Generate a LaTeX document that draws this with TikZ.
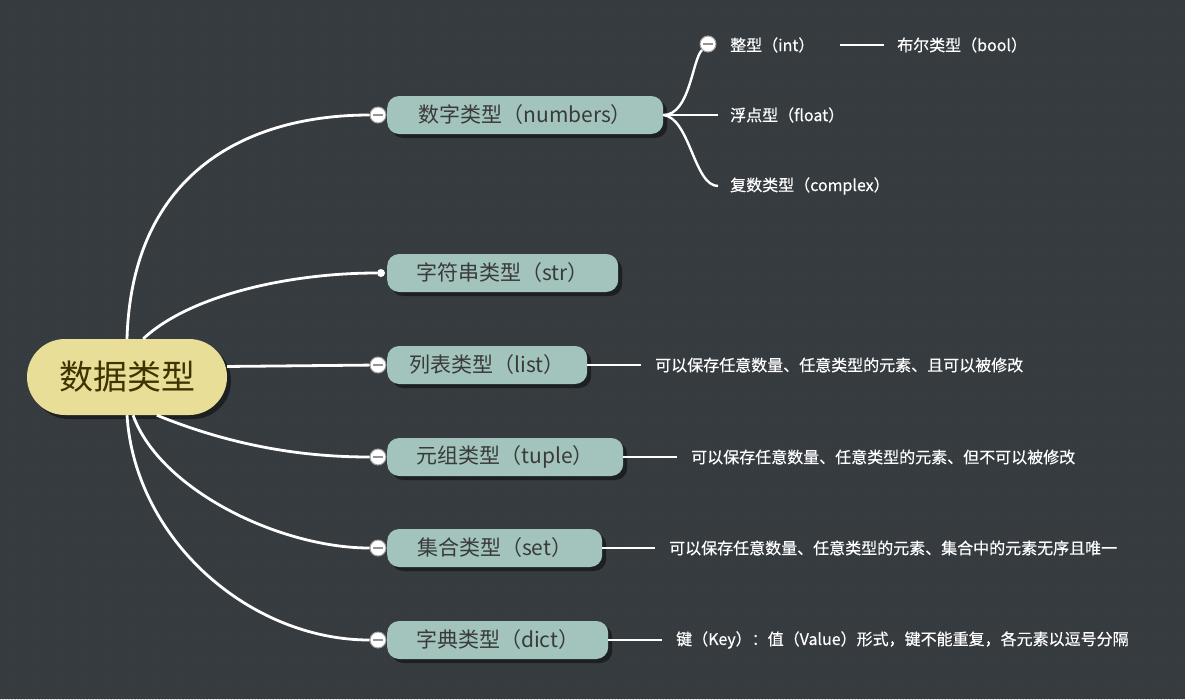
\documentclass[tikz,border=0pt]{standalone}
\usepackage{fontspec}
\setmainfont{Noto Sans CJK SC}
\newfontfamily\leaffont[FakeBold=0.4]{Noto Sans CJK SC}
\usepackage{xcolor}
\usepackage{tikz}
\usetikzlibrary{positioning}
\usetikzlibrary{shadows}
\usetikzlibrary{patterns}
\definecolor{board}{HTML}{363B3F}
\definecolor{boarddot}{HTML}{42474B}
\definecolor{sand}{HTML}{E8DE98}
\definecolor{sandink}{HTML}{3F3300}
\definecolor{sage}{HTML}{A2C4BD}
\definecolor{ink}{HTML}{3A3A3A}
\tikzset {
  x=1pt, y=-1pt,
  % central topic
  root/.style = {fill=sand, text=sandink, rounded corners=38pt,
    minimum width=200pt, minimum height=76pt, inner sep=0pt,
    font=\fontsize{34}{40}\selectfont,
    drop shadow={shadow xshift=4pt, shadow yshift=-4pt, opacity=0.45, fill=black}},
  % main topics
  topic/.style = {fill=sage, text=ink, rounded corners=12pt, anchor=west,
    minimum height=38pt, inner xsep=22pt, inner ysep=0pt,
    font=\fontsize{21}{25}\selectfont,
    drop shadow={shadow xshift=4pt, shadow yshift=-4pt, opacity=0.45, fill=black}},
  % collapse button with a minus
  fold/.style = {circle, draw=gray!75, fill=white, line width=1pt,
    minimum size=16pt, inner sep=0pt,
    path picture={\draw[gray!85, line width=1.3pt]
      ([xshift=-5pt]path picture bounding box.center) --
      ([xshift=5pt]path picture bounding box.center);}},
  % small end dot
  tip/.style = {circle, fill=white, minimum size=8pt, inner sep=0pt},
  % plain white labels
  leaf/.style = {text=white, anchor=west, inner xsep=12pt, inner ysep=2pt,
    font=\leaffont\fontsize{16}{19}\selectfont},
  % connectors
  branch/.style = {white, line width=2.8pt},
  twig/.style = {white, line width=2.4pt},
}
\begin{document}
\begin{tikzpicture}
  \useasboundingbox (0,0) rectangle (1185,699);
  \fill[board] (0,0) rectangle (1185,699);
  \fill[pattern=dots, pattern color=boarddot] (0,0) rectangle (1185,699);

  \node[root] (data) at (127,377) {数据类型};

  \node[topic, minimum width=276pt] (nnum) at (387,115) {数字类型（numbers）};
  \node[topic, minimum width=231pt] (nstr) at (387,273) {字符串类型（str）};
  \node[topic, minimum width=200pt] (nlist) at (387,365) {列表类型（list）};
  \node[topic, minimum width=236pt] (ntup) at (387,457) {元组类型（tuple）};
  \node[topic, minimum width=215pt] (nset) at (387,548) {集合类型（set）};
  \node[topic, minimum width=221pt] (ndict) at (387,640) {字典类型（dict）};

  \node[fold] (fnum) at (378,115) {};
  \node[tip] (dstr) at (381,273) {};
  \node[fold] (flist) at (378,365) {};
  \node[fold] (ftup) at (378,457) {};
  \node[fold] (fset) at (378,548) {};
  \node[fold] (fdict) at (378,640) {};

  \draw[branch] (data.north) .. controls (132,170) and (250,115) .. (fnum);
  \draw[branch] (data.67) .. controls (190,295) and (290,273) .. (dstr);
  \draw[branch] (data.6) -- (flist);
  \draw[branch] (data.-52) .. controls (230,445) and (300,457) .. (ftup);
  \draw[branch] (data.-81) .. controls (160,490) and (280,548) .. (fset);
  \draw[branch] (data.south) .. controls (135,540) and (250,640) .. (fdict);

  % numbers subtopics
  \node[leaf] (int) at (718,45) {整型（int）};
  \node[leaf] (bool) at (885,45) {布尔类型（bool）};
  \node[leaf] (float) at (718,115) {浮点型（float）};
  \node[leaf] (complex) at (718,186) {复数类型（complex）};
  \node[fold] (fint) at (708,44) {};

  \draw[twig] (nnum.east) .. controls (690,115) and (692,60) .. (fint);
  \draw[twig] (nnum.east) -- (float);
  \draw[twig] (nnum.east) .. controls (690,118) and (694,186) .. (complex);
  \draw[twig, shorten <=13pt, shorten >=1pt] (int) -- (bool);

  % descriptions
  \node[leaf, inner xsep=14pt] (dlist) at (641,365) {可以保存任意数量、任意类型的元素、且可以被修改};
  \node[leaf, inner xsep=14pt] (dtup) at (677,457) {可以保存任意数量、任意类型的元素、但不可以被修改};
  \node[leaf, inner xsep=14pt] (dset) at (655,548) {可以保存任意数量、任意类型的元素、集合中的元素无序且唯一};
  \node[leaf, inner xsep=14pt] (ddict) at (662,640) {键（Key）：值（Value）形式，键不能重复，各元素以逗号分隔};

  \draw[twig] (nlist) -- (dlist);
  \draw[twig] (ntup) -- (dtup);
  \draw[twig] (nset) -- (dset);
  \draw[twig] (ndict) -- (ddict);
\end{tikzpicture}
\end{document}
